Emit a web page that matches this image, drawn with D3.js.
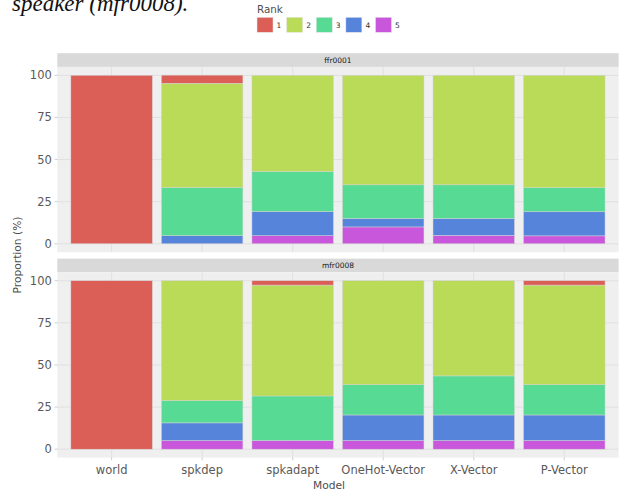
<!DOCTYPE html>
<html>
<head>
<meta charset="utf-8">
<script src="https://cdn.jsdelivr.net/npm/d3@7"></script>
<style>
  body { margin: 0; background: #fff; }
  text { font-family: "DejaVu Sans", sans-serif; }
</style>
</head>
<body>
<div id="chart"></div>
<script>
// models on the x axis
const models = ["world", "spkdep", "spkadapt", "OneHot-Vector", "X-Vector", "P-Vector"];
const ranks = ["1", "2", "3", "4", "5"];
const rankColors = ["#db5f57", "#b9db57", "#57db94", "#5784db", "#c957db"];
const speakers = ["ffr0001", "mfr0008"];
const yTicks = [0, 25, 50, 75, 100];

// proportion (%) for rank 1..5, one row per model
const ffr0001 = [
  [100, 0, 0, 0, 0],
  [4.8, 61.9, 28.6, 4.8, 0],
  [0, 57.1, 23.8, 14.3, 4.8],
  [0, 65, 20, 5, 10],
  [0, 65, 20, 10, 5],
  [0, 66.7, 14.3, 14.3, 4.7]
];
const mfr0008 = [
  [100, 0, 0, 0, 0],
  [0, 71.2, 13.2, 10.5, 5.1],
  [2.6, 65.8, 26.5, 0, 5.1],
  [0, 61.7, 18.0, 15.2, 5.1],
  [0, 56.5, 23.2, 15.2, 5.1],
  [2.6, 59.1, 18.0, 15.2, 5.1]
];

const W = 619, H = 491;
const left = 57.3, right = 618.6;
const panelH = 185.3, stripH = 13.7;
const panelTops = [66.9, 272.3];

const svg = d3.select("#chart").append("svg")
  .attr("width", W).attr("height", H);

// caption text cut from the page above the figure
svg.append("text")
  .attr("x", 12).attr("y", 11)
  .style("font-family", "'Liberation Serif', serif")
  .style("font-style", "italic")
  .style("font-size", "23px")
  .attr("fill", "#111")
  .text("speaker (mfr0008).");

const x = d3.scaleBand().domain(models).range([left, right])
  .paddingInner(0.1).paddingOuter(0.15);

const stack = d3.stack()
  .keys([4, 3, 2, 1, 0])   // rank 5 at the bottom, rank 1 on top
  .value((d, k) => d.values[k]);

let drawPanel = (rows, top, name) => {
  const y = d3.scaleLinear().domain([-5, 105]).range([top + panelH, top]);
  const g = svg.append("g");

  // strip
  g.append("rect")
    .attr("x", left).attr("y", top - stripH)
    .attr("width", right - left).attr("height", stripH)
    .attr("fill", "#d9d9d9");
  g.append("text")
    .attr("x", (left + right) / 2).attr("y", top - stripH / 2)
    .attr("dy", "0.35em").attr("text-anchor", "middle")
    .style("font-size", "7.5px").attr("fill", "#1a1a1a")
    .text(name);

  // panel background and grid
  g.append("rect")
    .attr("x", left).attr("y", top)
    .attr("width", right - left).attr("height", panelH)
    .attr("fill", "#efefef");
  g.selectAll(".hgrid").data(yTicks).join("line")
    .attr("x1", left).attr("x2", right)
    .attr("y1", d => y(d)).attr("y2", d => y(d))
    .attr("stroke", "#e0e0e0").attr("stroke-width", 1);
  g.selectAll(".vgrid").data(models).join("line")
    .attr("x1", d => x(d) + x.bandwidth() / 2).attr("x2", d => x(d) + x.bandwidth() / 2)
    .attr("y1", top).attr("y2", top + panelH)
    .attr("stroke", "#e0e0e0").attr("stroke-width", 1);

  // stacked bars
  const data = models.map((m, i) => ({ model: m, values: rows[i] }));
  const series = stack(data);
  g.selectAll(".layer").data(series).join("g")
    .attr("fill", s => rankColors[s.key])
    .selectAll("rect").data(s => s.filter(d => d[1] - d[0] > 0)).join("rect")
    .attr("x", d => x(d.data.model))
    .attr("width", x.bandwidth())
    .attr("y", d => y(d[1]))
    .attr("height", d => y(d[0]) - y(d[1]))
    .attr("stroke", "#d4d4d4").attr("stroke-width", 0.5);

  // y axis
  g.selectAll(".ytick").data(yTicks).join("line")
    .attr("x1", left - 2.7).attr("x2", left)
    .attr("y1", d => y(d)).attr("y2", d => y(d))
    .attr("stroke", "#cfcfcf");
  g.selectAll(".ylab").data(yTicks).join("text")
    .attr("x", left - 5.5).attr("y", d => y(d))
    .attr("dy", "0.35em").attr("text-anchor", "end")
    .style("font-size", "11.5px").attr("fill", "#595959")
    .text(d => d);
  return y;
};

drawPanel(ffr0001, panelTops[0], speakers[0]);
drawPanel(mfr0008, panelTops[1], speakers[1]);

// x axis labels
const bottom = panelTops[1] + panelH;
svg.selectAll(".xtick").data(models).join("line")
  .attr("x1", d => x(d) + x.bandwidth() / 2).attr("x2", d => x(d) + x.bandwidth() / 2)
  .attr("y1", bottom).attr("y2", bottom + 2.7)
  .attr("stroke", "#cfcfcf");
svg.selectAll(".xlab").data(models).join("text")
  .attr("x", d => x(d) + x.bandwidth() / 2).attr("y", bottom + 16.5)
  .attr("text-anchor", "middle")
  .style("font-size", "11.5px").attr("fill", "#595959")
  .text(d => d);

// axis titles
svg.append("text")
  .attr("x", 329).attr("y", 489)
  .attr("text-anchor", "middle")
  .style("font-size", "10.7px").attr("fill", "#4d4d4d")
  .text("Model");
svg.append("text")
  .attr("transform", "translate(21,255) rotate(-90)")
  .attr("text-anchor", "middle")
  .style("font-size", "10.7px").attr("fill", "#4d4d4d")
  .text("Proportion (%)");

// legend
const legend = svg.append("g");
legend.append("text")
  .attr("x", 257).attr("y", 13)
  .style("font-size", "10.3px").attr("fill", "#4d4d4d")
  .text("Rank");
const keyX = d3.scalePoint().domain(ranks).range([257, 375.5]);
legend.selectAll("rect").data(ranks).join("rect")
  .attr("x", d => keyX(d)).attr("y", 17.3)
  .attr("width", 16).attr("height", 15)
  .attr("fill", (d, i) => rankColors[i])
  .attr("stroke", "#e6e6e6").attr("stroke-width", 0.5);
legend.selectAll(".lab").data(ranks).join("text")
  .attr("x", d => keyX(d) + 19.5).attr("y", 25)
  .attr("dy", "0.35em")
  .style("font-size", "7.5px").attr("fill", "#333")
  .text(d => d);
</script>
</body>
</html>
